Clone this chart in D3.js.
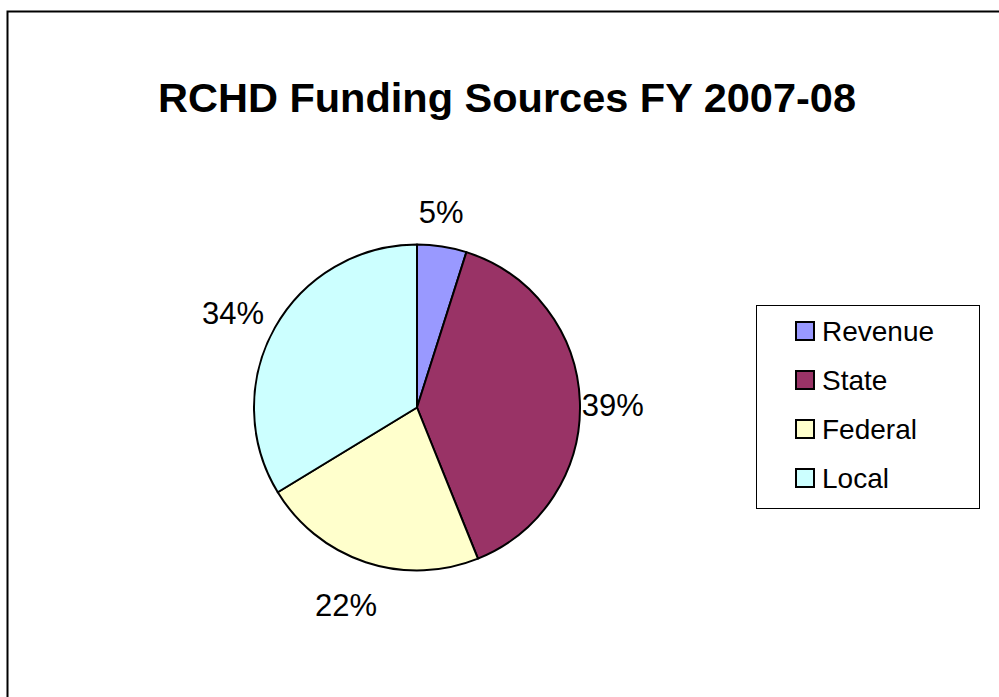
<!DOCTYPE html>
<html>
<head>
<meta charset="utf-8">
<script src="https://cdn.jsdelivr.net/npm/d3@7"></script>
<style>
  html, body { margin: 0; padding: 0; background: #fff; }
  svg { display: block; }
  text { font-family: "Liberation Sans", Arial, sans-serif; }
</style>
</head>
<body>
<svg id="chart" width="999" height="697"></svg>
<script>
const title = "RCHD Funding Sources FY 2007-08";
const categories = ["Revenue", "State", "Federal", "Local"];
const values = [4.9, 39.0, 22.4, 33.7];
const colors = ["#9999FF", "#993366", "#FFFFCC", "#CCFFFF"];

const W = 999, H = 697;
const svg = d3.select("#chart");

// outer chart border
svg.append("rect")
  .attr("x", 7.5).attr("y", 11.5)
  .attr("width", W + 20).attr("height", H + 20)
  .attr("fill", "#fff").attr("stroke", "#000").attr("stroke-width", 2);

// title
svg.append("text")
  .attr("x", 507).attr("y", 112)
  .attr("text-anchor", "middle")
  .attr("font-size", 41.5).attr("font-weight", "bold")
  .attr("fill", "#000")
  .text(title);

const cx = 417, cy = 407.5, r = 163;
const total = d3.sum(values);
const color = d3.scaleOrdinal().domain(categories).range(colors);

const pie = d3.pie().sort(null).value(d => d.value).startAngle(0).endAngle(2 * Math.PI);
const data = categories.map((c, i) => ({ name: c, value: values[i] }));
const arcs = pie(data);

const arc = d3.arc().innerRadius(0).outerRadius(r);
const labelArc = d3.arc().innerRadius(203).outerRadius(203);

const g = svg.append("g").attr("transform", `translate(${cx},${cy})`);
g.selectAll("path.slice")
  .data(arcs)
  .join("path")
  .attr("class", "slice")
  .attr("d", arc)
  .attr("fill", d => color(d.data.name))
  .attr("stroke", "#000")
  .attr("stroke-width", 2)
  .attr("stroke-linejoin", "round");

g.selectAll("text.lbl")
  .data(arcs)
  .join("text")
  .attr("class", "lbl")
  .attr("transform", d => { const [x, y] = labelArc.centroid(d); return `translate(${x - 7},${y + 5})`; })
  .attr("text-anchor", "middle")
  .attr("dy", "0.35em")
  .attr("font-size", 31)
  .attr("fill", "#000")
  .text(d => Math.round(d.data.value / total * 100) + "%");

// legend
const lx = 756, ly = 305, lw = 223, lh = 203;
const lg = svg.append("g");
lg.append("rect")
  .attr("x", lx + 0.5).attr("y", ly + 0.5)
  .attr("width", lw).attr("height", lh)
  .attr("fill", "#fff").attr("stroke", "#000").attr("stroke-width", 1);

const rowY = d3.scalePoint().domain(categories).range([ly + 26, ly + 173]);
const items = lg.selectAll("g.item").data(categories).join("g").attr("class", "item")
  .attr("transform", d => `translate(${lx + 40},${rowY(d)})`);
items.append("rect")
  .attr("x", 0).attr("y", -9)
  .attr("width", 18).attr("height", 18)
  .attr("fill", d => color(d))
  .attr("stroke", "#000").attr("stroke-width", 2);
items.append("text")
  .attr("x", 26).attr("y", 0)
  .attr("dy", "0.35em")
  .attr("font-size", 28)
  .attr("fill", "#000")
  .text(d => d);
</script>
</body>
</html>
